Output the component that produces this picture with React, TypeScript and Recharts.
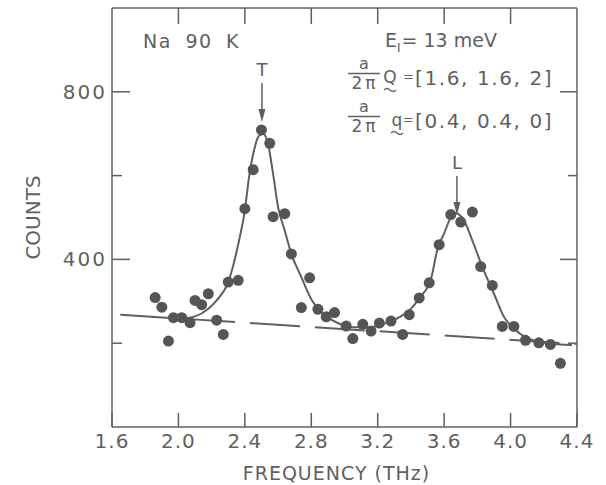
import { ComposedChart, Line, Scatter, XAxis, YAxis } from "recharts";

document.body.style.margin = "0";

const INK = "#5f5f5f";
const FONT = "'DejaVu Sans', sans-serif";

// measured counts (dots)
const FREQ = [
  1.86, 1.9, 1.94, 1.97, 2.02, 2.07, 2.1, 2.14, 2.18, 2.23, 2.27, 2.3, 2.36,
  2.4, 2.45, 2.5, 2.55, 2.57, 2.64, 2.68, 2.74, 2.79, 2.84, 2.89, 2.94, 3.01,
  3.05, 3.11, 3.16, 3.21, 3.28, 3.35, 3.39, 3.45, 3.51, 3.57, 3.64, 3.7, 3.77,
  3.82, 3.89, 3.95, 4.02, 4.09, 4.17, 4.24, 4.3,
];
const COUNTS = [
  309, 286, 205, 261, 261, 249, 302, 292, 318, 255, 221, 346, 350, 521, 614,
  709, 677, 502, 509, 413, 285, 356, 281, 263, 273, 241, 211, 245, 229, 248,
  253, 221, 268, 308, 344, 435, 507, 489, 513, 383, 338, 240, 240, 207, 201,
  197, 152,
];

// fitted curve (solid)
const FIT_FREQ = [
  2.0, 2.1, 2.18, 2.23, 2.3, 2.365, 2.4, 2.425, 2.455, 2.485, 2.51, 2.54, 2.57,
  2.6, 2.64, 2.68, 2.74, 2.8, 2.87, 2.95, 3.05, 3.15, 3.25, 3.33, 3.4, 3.455,
  3.52, 3.56, 3.6, 3.64, 3.67, 3.72, 3.77, 3.83, 3.9, 3.96, 4.03, 4.11, 4.2,
  4.3, 4.37,
];
const FIT_COUNTS = [
  258, 264, 282, 302, 346, 445, 517, 596, 660, 695, 700, 675, 604, 525, 469,
  413, 358, 305, 271, 250, 238, 238, 248, 262, 282, 310, 352, 425, 462, 500,
  510, 493, 445, 382, 318, 263, 231, 211, 201, 197, 196,
];

// background (dashed)
const BG_FREQ = [1.65, 4.4];
const BG_COUNTS = [268, 198];

// peak markers
const PEAK_FREQ = [2.503, 3.677];
const PEAK_COUNTS = [728, 506];
const PEAK_TAGS = ["T", "L"];

const X_TICKS = [1.6, 2.0, 2.4, 2.8, 3.2, 3.6, 4.0, 4.4];
const Y_TICKS = [200, 400, 600, 800];
const Y_LABELS = [400, 800];

const points = FREQ.map((f, i) => ({ f, c: COUNTS[i] }));
const fit = FIT_FREQ.map((f, i) => ({ f, c: FIT_COUNTS[i] }));
const background = BG_FREQ.map((f, i) => ({ f, c: BG_COUNTS[i] }));
const peaks = PEAK_FREQ.map((f, i) => ({ f, c: PEAK_COUNTS[i], tag: PEAK_TAGS[i] }));

function BottomTick({ x, y, payload }: any) {
  return (
    <g>
      <line x1={x} y1={y} x2={x} y2={y - 14} stroke={INK} strokeWidth={1.5} />
      <text x={x} y={y + 21} textAnchor="middle" fontSize={20} fill={INK} fontFamily={FONT} letterSpacing={1}>
        {payload.value.toFixed(1)}
      </text>
    </g>
  );
}

function TopTick({ x, y }: any) {
  return <line x1={x} y1={y} x2={x} y2={y + 16} stroke={INK} strokeWidth={1.5} />;
}

function LeftTick({ x, y, payload }: any) {
  const major = Y_LABELS.includes(payload.value);
  return (
    <g>
      <line x1={x} y1={y} x2={x + (major ? 18 : 10)} y2={y} stroke={INK} strokeWidth={1.5} />
      {major && (
        <text x={x - 5} y={y + 7} textAnchor="end" fontSize={20} fill={INK} fontFamily={FONT} letterSpacing={2}>
          {payload.value}
        </text>
      )}
    </g>
  );
}

function RightTick({ x, y, payload }: any) {
  const major = Y_LABELS.includes(payload.value);
  return <line x1={x} y1={y} x2={x - (major ? 17 : 9)} y2={y} stroke={INK} strokeWidth={1.5} />;
}

function CountsLabel({ viewBox }: any) {
  const cx = viewBox.x + 40;
  const cy = viewBox.y + viewBox.height / 2;
  return (
    <text x={cx} y={cy} transform={`rotate(-90, ${cx}, ${cy})`} textAnchor="middle" fontSize={20} fill={INK} fontFamily={FONT}>
      COUNTS
    </text>
  );
}

function Dot({ cx, cy }: any) {
  return <circle cx={cx} cy={cy} r={5.5} fill="#555" />;
}

function PeakArrow({ cx, cy, payload }: any) {
  return (
    <g fill={INK} stroke="none">
      <text x={cx} y={cy - 46} textAnchor="middle" fontSize={18} fontFamily={FONT}>
        {payload.tag}
      </text>
      <line x1={cx} y1={cy - 39} x2={cx} y2={cy - 10} stroke={INK} strokeWidth={1.5} />
      <polygon points={`${cx - 3.5},${cy - 13} ${cx + 3.5},${cy - 13} ${cx},${cy}`} />
    </g>
  );
}

// a / 2π  with a vector under it, then "= [..]"
function WaveVector({ top, sym, symX, values }: { top: number; sym: string; symX: number; values: string }) {
  const cx = 364;
  return (
    <g>
      <text x={cx} y={top + 8} fontSize={16} textAnchor="middle">a</text>
      <line x1={cx - 16} x2={cx + 16} y1={top + 12.5} y2={top + 12.5} stroke={INK} strokeWidth={1.5} />
      <text x={cx + 1} y={top + 28} fontSize={17} textAnchor="middle" letterSpacing={3}>2π</text>
      <text x={symX} y={top + 22} fontSize={17} textAnchor="middle">{sym}</text>
      <path d={`M${symX - 6} ${top + 29} q3 -3 6 0 t6 0`} stroke={INK} strokeWidth={1.3} fill="none" />
      <text y={top + 24} fontSize={20} letterSpacing={1.6}>
        <tspan x={403} fontSize={13} dy={-4}>=</tspan>
        <tspan x={415} dy={4}>{values}</tspan>
      </text>
    </g>
  );
}

function Annotations() {
  return (
    <svg width={606} height={485} style={{ position: "absolute", left: 0, top: 0, pointerEvents: "none" }} fontFamily={FONT} fill={INK}>
      <text x={143} y={48} fontSize={19} letterSpacing={1.5} wordSpacing={6}>
        Na 90 K
      </text>
      <text x={385} y={47} fontSize={19}>
        E<tspan fontSize={12} dy={5}>I</tspan>
        <tspan dy={-5} dx={1}>= 13 meV</tspan>
      </text>
      <WaveVector top={61} sym="Q" symX={390} values="[1.6, 1.6, 2]" />
      <WaveVector top={104} sym="q" symX={397} values="[0.4, 0.4, 0]" />
    </svg>
  );
}

export default function App() {
  return (
    <div style={{ position: "relative", width: 606, height: 485, background: "#fff" }}>
      <ComposedChart width={606} height={485} margin={{ top: 7, right: 28, bottom: 0, left: 0 }}>
        <XAxis
          dataKey="f"
          type="number"
          domain={[1.6, 4.4]}
          ticks={X_TICKS}
          interval={0}
          height={58}
          tickSize={0}
          tickMargin={0}
          tick={<BottomTick />}
          axisLine={{ stroke: INK, strokeWidth: 1.5 }}
          label={{ value: "FREQUENCY (THz)", position: "insideBottom", offset: 5, dx: -8, fontSize: 19, fill: INK, fontFamily: FONT, letterSpacing: 1 }}
        />
        <XAxis
          xAxisId="top"
          orientation="top"
          dataKey="f"
          type="number"
          domain={[1.6, 4.4]}
          ticks={X_TICKS.slice(1, -1)}
          interval={0}
          height={1}
          tickSize={0}
          tickMargin={0}
          tick={<TopTick />}
          axisLine={{ stroke: INK, strokeWidth: 1.5 }}
        />
        <YAxis
          type="number"
          domain={[0, 1000]}
          ticks={Y_TICKS}
          interval={0}
          width={112}
          tickSize={0}
          tickMargin={0}
          tick={<LeftTick />}
          axisLine={{ stroke: INK, strokeWidth: 1.5 }}
          label={<CountsLabel />}
        />
        <YAxis
          yAxisId="right"
          orientation="right"
          type="number"
          domain={[0, 1000]}
          ticks={Y_TICKS}
          interval={0}
          width={1}
          tickSize={0}
          tickMargin={0}
          tick={<RightTick />}
          axisLine={{ stroke: INK, strokeWidth: 1.5 }}
        />
        <Line
          xAxisId="top"
          yAxisId="right"
          data={background}
          dataKey="c"
          type="linear"
          stroke={INK}
          strokeWidth={2}
          strokeDasharray="50 15"
          dot={false}
          activeDot={false}
          isAnimationActive={false}
        />
        <Line
          data={fit}
          dataKey="c"
          type="monotone"
          stroke={INK}
          strokeWidth={2}
          dot={false}
          activeDot={false}
          isAnimationActive={false}
        />
        <Scatter data={points} dataKey="c" shape={<Dot />} isAnimationActive={false} />
        <Scatter data={peaks} dataKey="c" shape={<PeakArrow />} isAnimationActive={false} />
      </ComposedChart>
      <Annotations />
    </div>
  );
}
